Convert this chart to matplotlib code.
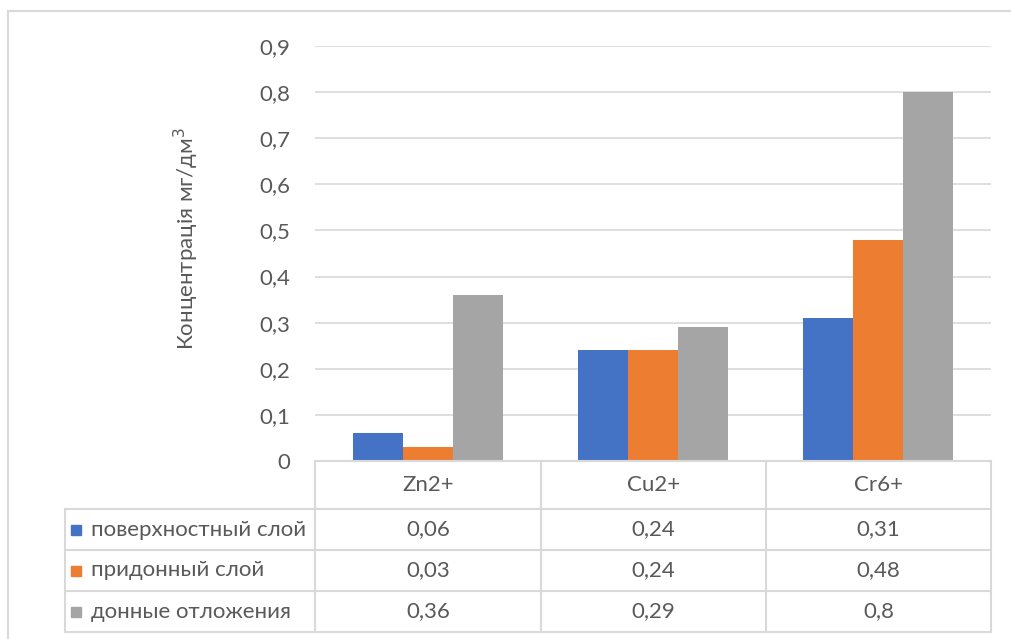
import matplotlib
matplotlib.use("Agg")
import matplotlib.pyplot as plt
from matplotlib.lines import Line2D
from matplotlib.patches import Rectangle

categories = ["Zn2+", "Cu2+", "Cr6+"]
series_names = ["поверхностный слой", "придонный слой", "донные отложения"]
surface = [0.06, 0.24, 0.31]
bottom_layer = [0.03, 0.24, 0.48]
sediments = [0.36, 0.29, 0.8]
series_values = [surface, bottom_layer, sediments]
series_labels = [["0,06", "0,24", "0,31"], ["0,03", "0,24", "0,48"], ["0,36", "0,29", "0,8"]]
yticks = [0, 0.1, 0.2, 0.3, 0.4, 0.5, 0.6, 0.7, 0.8, 0.9]
ytick_labels = ["0", "0,1", "0,2", "0,3", "0,4", "0,5", "0,6", "0,7", "0,8", "0,9"]
colors = ["#4472C4", "#ED7D31", "#A5A5A5"]

W, H = 1011, 639
plt.rcParams['font.family'] = ['Lato', 'DejaVu Sans']
TXT = "#595959"
GRID = "#D9D9D9"
FS = 16

fig = plt.figure(figsize=(W / 100, H / 100), dpi=100)
fig.patch.set_facecolor("white")

def fx(px):
    return px / W

def fy(py):
    return 1 - py / H

# outer chart border
fig.add_artist(Line2D([fx(8), fx(1011)], [fy(11), fy(11)], color=GRID, lw=1.5))
fig.add_artist(Line2D([fx(8), fx(8)], [fy(11), fy(639)], color=GRID, lw=1.5))

left, right, top, bot = 315, 991, 46, 461
ax = fig.add_axes([fx(left), fy(bot), fx(right - left), (bot - top) / H])
ax.set_xlim(-0.5, 2.5)
ax.set_ylim(0, 0.9)
bw = 0.222
for i, vals in enumerate(series_values):
    xs = [j + (i - 1) * bw for j in range(len(categories))]
    ax.bar(xs, vals, width=bw, color=colors[i], edgecolor="none", linewidth=0, zorder=3)

ax.set_yticks(yticks)
ax.set_yticklabels(ytick_labels, fontsize=FS, color=TXT)
ax.tick_params(axis='y', length=0, pad=18)
ax.set_xticks([])
for s in ax.spines.values():
    s.set_visible(False)
ax.grid(axis='y', color=GRID, lw=1.2, zorder=0)
ax.set_axisbelow(True)
ax.set_facecolor("none")

fig.text(fx(186), fy(238), "Концентрація мг/дм$^3$", rotation=90, ha='center', va='center',
         fontsize=FS, color=TXT)

# data table
cols = [315, 541, 766, 991]
rows = [461, 509, 550, 591, 632]
tleft = 65
lw = 1.5
fig.add_artist(Line2D([fx(315), fx(991)], [fy(rows[0])] * 2, color=GRID, lw=lw))
for r in rows[1:]:
    fig.add_artist(Line2D([fx(tleft), fx(991)], [fy(r)] * 2, color=GRID, lw=lw))
for c in cols:
    fig.add_artist(Line2D([fx(c)] * 2, [fy(rows[0]), fy(rows[-1])], color=GRID, lw=lw))
fig.add_artist(Line2D([fx(tleft)] * 2, [fy(rows[1]), fy(rows[-1])], color=GRID, lw=lw))

for j, cat in enumerate(categories):
    cx = (cols[j] + cols[j + 1]) / 2
    fig.text(fx(cx), fy((rows[0] + rows[1]) / 2), cat, ha='center', va='center', fontsize=FS, color=TXT)
for i, name in enumerate(series_names):
    cy = (rows[i + 1] + rows[i + 2]) / 2
    fig.add_artist(Rectangle((fx(71), fy(cy + 5)), fx(10), 10 / H, color=colors[i]))
    fig.text(fx(91), fy(cy), name, ha='left', va='center', fontsize=FS, color=TXT)
    for j in range(len(categories)):
        cx = (cols[j] + cols[j + 1]) / 2
        fig.text(fx(cx), fy(cy), series_labels[i][j], ha='center', va='center', fontsize=FS, color=TXT)

fig.savefig("out.png", dpi=100, facecolor="white")
